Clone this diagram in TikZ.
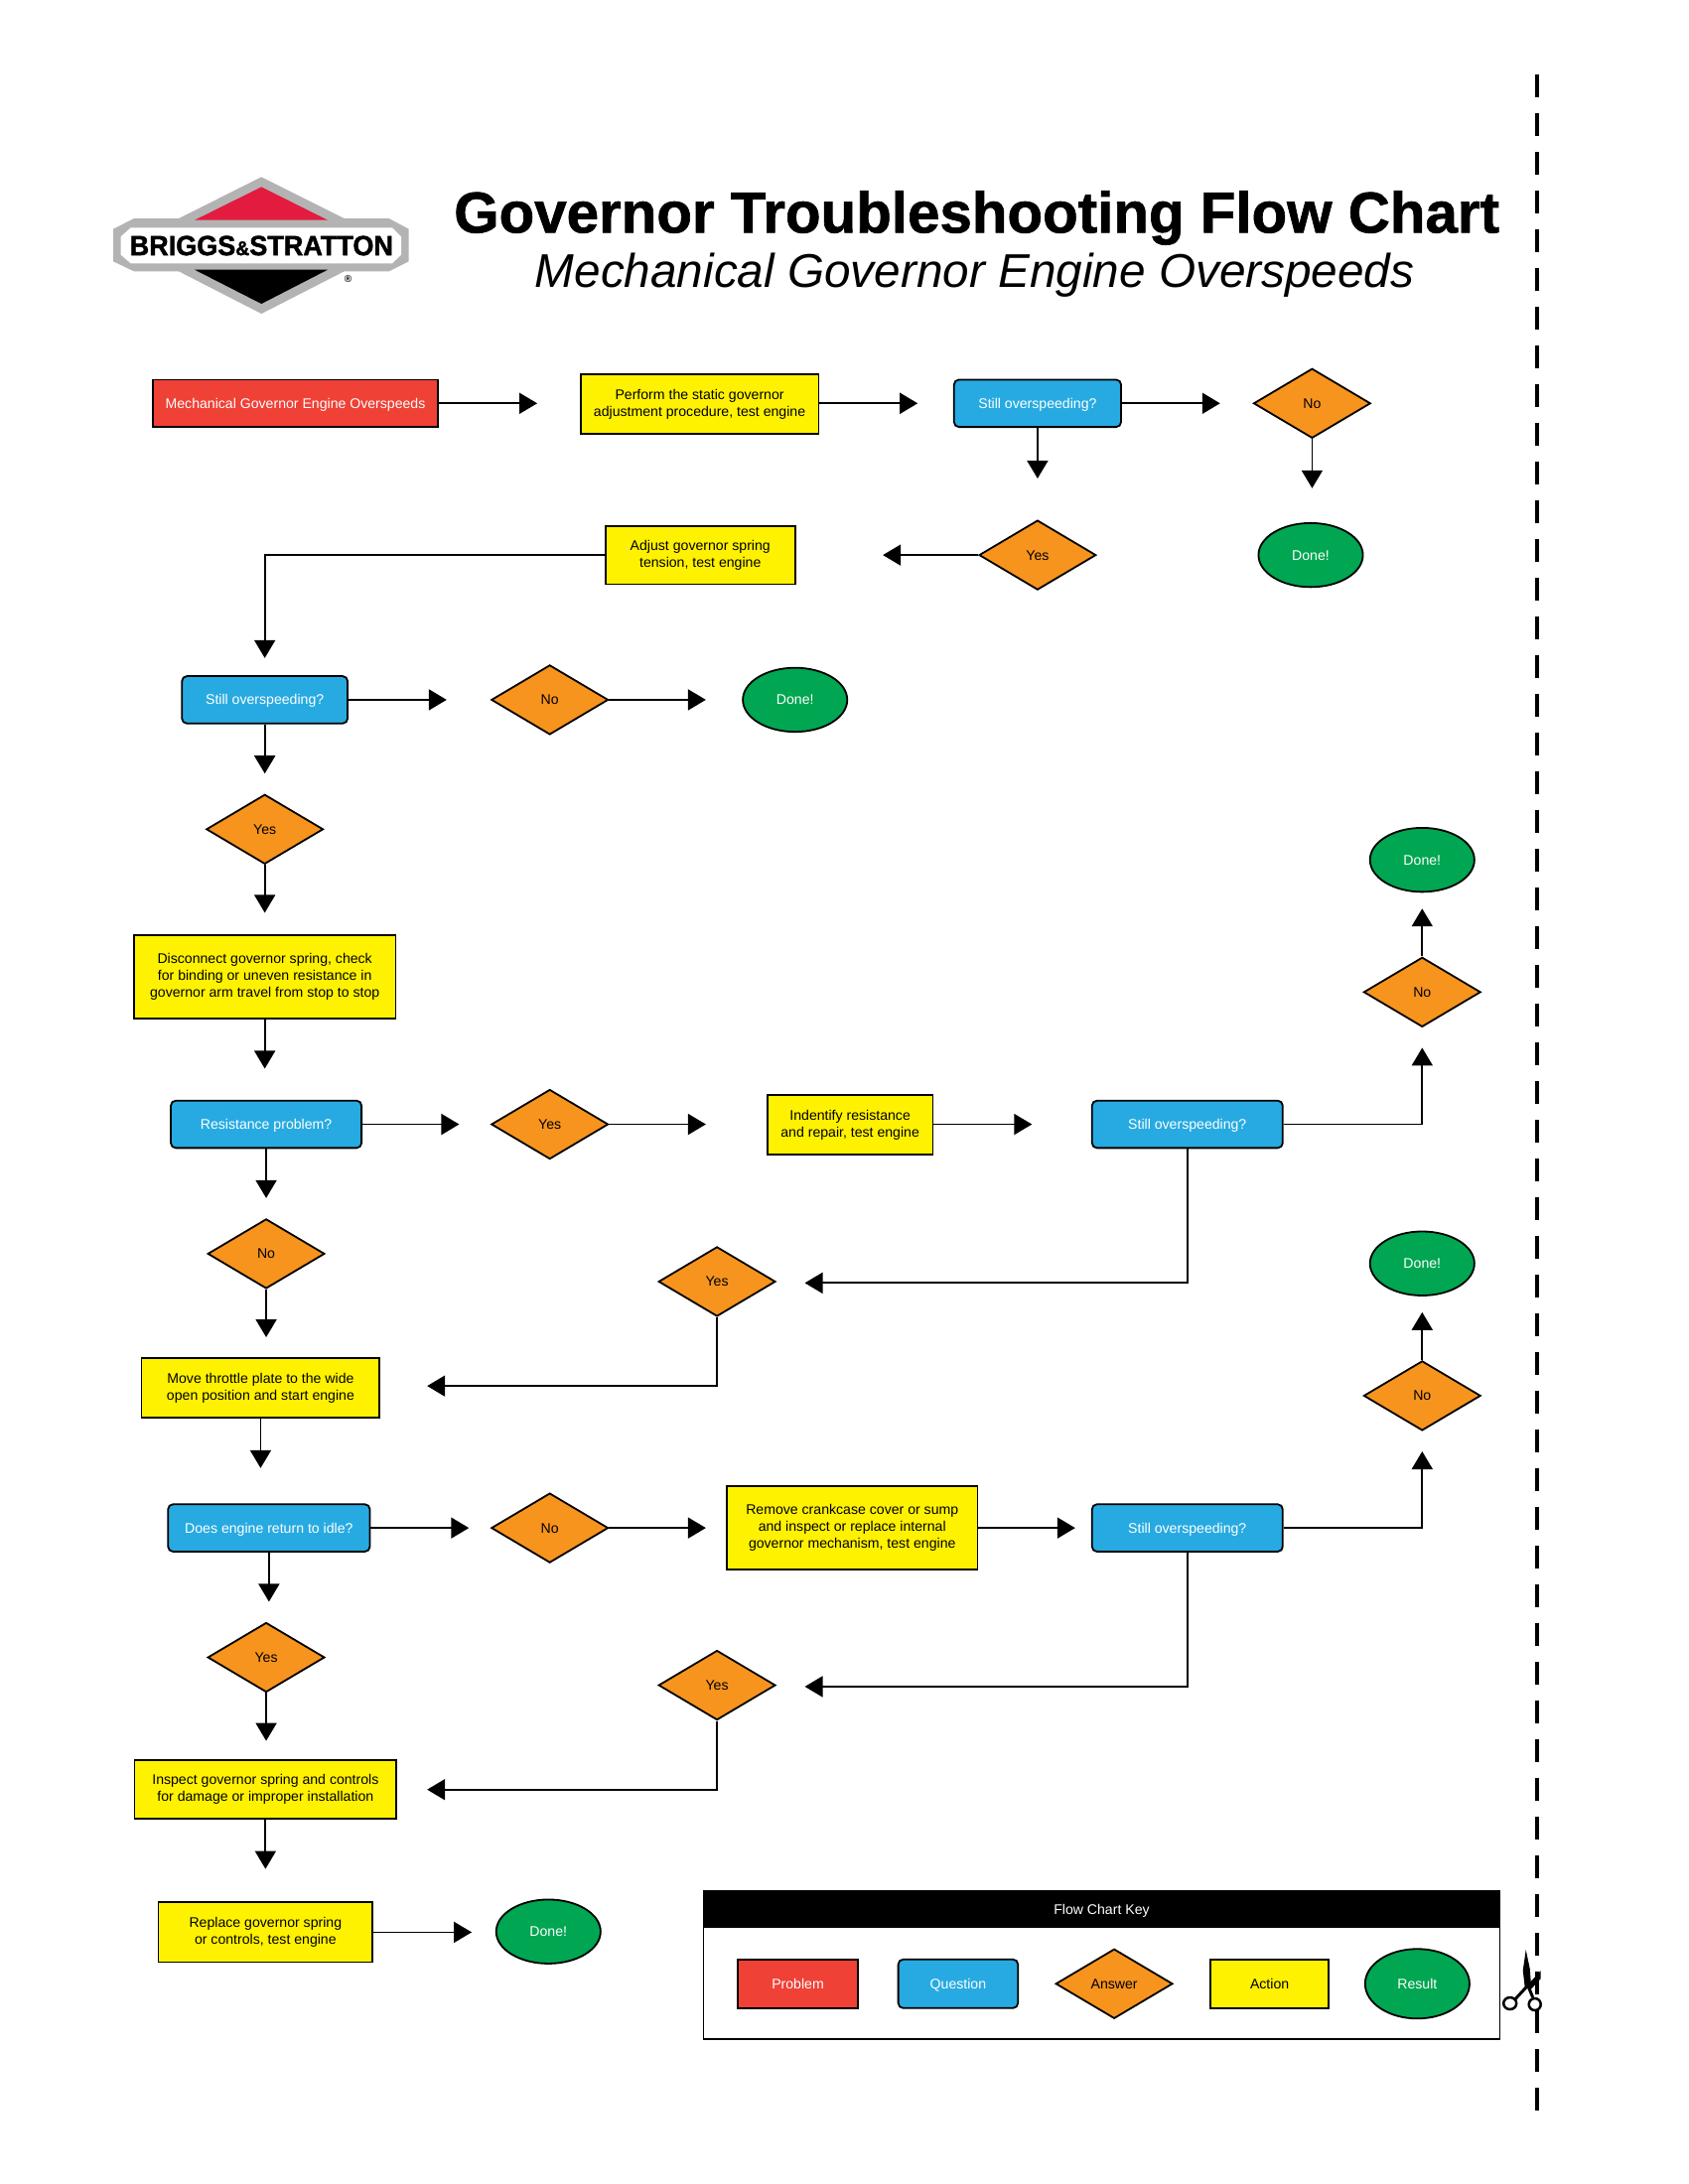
\documentclass[tikz,border=0pt]{standalone}
\usepackage{fontspec}
\setmainfont{Liberation Sans}
\newfontfamily\heavyfont[BoldFeatures={FakeBold=1.1}]{Liberation Sans}
\newfontfamily\logofont[BoldFeatures={FakeBold=1.6}]{Liberation Sans}
\usetikzlibrary{arrows.meta,shapes.geometric}
\definecolor{cred}{HTML}{EF4136}
\definecolor{cblue}{HTML}{27AAE1}
\definecolor{corange}{HTML}{F7941E}
\definecolor{cyellow}{HTML}{FFF200}
\definecolor{cgreen}{HTML}{00A651}
\definecolor{cgrey}{HTML}{B3B3B3}
\definecolor{clogored}{HTML}{E31B3F}
\def\uu{1.402pt}
\tikzset{
  base/.style={draw=black,line width=1.8pt,inner sep=0pt,align=center,
    font=\fontsize{14.1}{17}\selectfont},
  oneline/.style={text height=10pt,text depth=0pt},
  probbox/.style={base,oneline,rectangle,fill=cred,text=white,minimum width=#1*\uu,minimum height=34*\uu},
  quesbox/.style={base,oneline,rectangle,rounded corners=5pt,fill=cblue,text=white,minimum width=#1*\uu,minimum height=34*\uu},
  actbox/.style={base,rectangle,fill=cyellow,text=black,minimum width=#1*\uu},
  ansbox/.style={base,oneline,diamond,aspect=1.7,fill=corange,text=black,minimum width=84*\uu,minimum height=50*\uu},
  resbox/.style={base,oneline,ellipse,fill=cgreen,text=white,minimum width=75*\uu,minimum height=46*\uu},
  conn/.style={line width=1.8pt,draw=black},
  arr/.style={conn,-{Triangle[length=18pt,width=21pt]}},
}
\begin{document}
\begin{tikzpicture}[x=1.4035pt,y=-\uu]
\useasboundingbox (-0.5,-0.8) rectangle ++(1211.26,1569.19);
% logo, in image pixels
\begin{scope}[x=1pt,y=-1pt,shift={(-0.7,-1.1)}]
\fill[cgrey] (263.3,178.3) -- (180,220) -- (180,273.3) -- (263.3,316) -- (346.7,273.3) -- (346.7,220) -- cycle;
\fill[cgrey] (135,220) -- (391.7,220) -- (411.7,230.7) -- (411.7,263.3) -- (391.7,273.3) -- (135,273.3) -- (114,263.3) -- (114,230.7) -- cycle;
\fill[white] (131.7,229.3) -- (395,229.3) -- (404,238.3) -- (404,256.7) -- (395,265.3) -- (131.7,265.3) -- (121.7,256.7) -- (121.7,238.3) -- cycle;
\fill[clogored] (263.3,188.3) -- (330,221.7) -- (196,221.7) -- cycle;
\fill[black] (196,271.7) -- (330,271.7) -- (263.3,306) -- cycle;
\node[inner sep=0pt,text depth=0pt] (logotext) at (263.3,247.3) {\scalebox{.965}[1]{\fontsize{28}{28}\logofont\bfseries BRIGGS\scalebox{.72}{\&}STRATTON}};
\node[inner sep=0pt] (logoreg) at (350.5,281.5) {\fontsize{10}{10}\selectfont\bfseries ®};
\end{scope}
% titles
\node[inner sep=0pt] (title) at (700.3,155.7) {\fontsize{58.3}{60}\heavyfont\bfseries Governor Troubleshooting Flow Chart};
\node[inner sep=0pt] (subtitle) at (698.9,197.2) {\fontsize{47.7}{48}\selectfont\itshape Mechanical Governor Engine Overspeeds};
% free ends of connectors
\coordinate (t1) at (385,289);
\coordinate (t2) at (658,289);
\coordinate (t3) at (875,289);
\coordinate (t4) at (941,350);
\coordinate (t5) at (744,343);
\coordinate (t6) at (633,398);
\coordinate (t7) at (189.5,472);
\coordinate (t8) at (320,502);
\coordinate (t9) at (506,502);
\coordinate (t10) at (189.5,555);
\coordinate (t11) at (189.5,655);
\coordinate (t12) at (189.5,767);
\coordinate (t13) at (329,807);
\coordinate (t14) at (506,807);
\coordinate (t15) at (740,807);
\coordinate (t16) at (1020,752);
\coordinate (t17) at (1020,652);
\coordinate (t18) at (577,921);
\coordinate (t19) at (306,995);
\coordinate (t20) at (190.5,860);
\coordinate (t21) at (190.5,960);
\coordinate (t22) at (186.5,1054);
\coordinate (t23) at (336,1097);
\coordinate (t24) at (506,1097);
\coordinate (t25) at (771,1097);
\coordinate (t26) at (1020,1042);
\coordinate (t27) at (1020,942);
\coordinate (t28) at (577,1211);
\coordinate (t29) at (306,1285);
\coordinate (t30) at (192.5,1150);
\coordinate (t31) at (190.5,1250);
\coordinate (t32) at (190,1342);
\coordinate (t33) at (338,1387.5);
% nodes
\node[probbox=205] (p1) at (211.5,289) {Mechanical Governor Engine Overspeeds};
\node[actbox=171,minimum height=43*\uu] (a1) at (501.5,289.5) {Perform the static governor\\adjustment procedure, test engine};
\node[quesbox=120] (q1) at (744,289) {Still overspeeding?};
\node[ansbox] (d1) at (941,289) {No};
\node[resbox] (e1) at (940,398) {Done!};
\node[ansbox] (d2) at (744,398) {Yes};
\node[actbox=136,minimum height=42*\uu] (a2) at (502,398) {Adjust governor spring\\tension, test engine};
\node[quesbox=119] (q2) at (189.5,502) {Still overspeeding?};
\node[ansbox] (d3) at (394,502) {No};
\node[resbox] (e2) at (570,502) {Done!};
\node[ansbox] (d4) at (189.5,595) {Yes};
\node[actbox=188,minimum height=60*\uu] (a3) at (189.5,701) {Disconnect governor spring, check\\for binding or uneven resistance in\\governor arm travel from stop to stop};
\node[quesbox=137] (q3) at (190.5,807) {Resistance problem?};
\node[ansbox] (d5) at (394,807) {Yes};
\node[actbox=119,minimum height=43*\uu] (a4) at (609.5,807.5) {Indentify resistance\\and repair, test engine};
\node[quesbox=137] (q4) at (851.5,807) {Still overspeeding?};
\node[ansbox] (d6) at (1020,712) {No};
\node[resbox] (e3) at (1020,617) {Done!};
\node[ansbox] (d7) at (514,920) {Yes};
\node[ansbox] (d8) at (190.5,900) {No};
\node[actbox=171,minimum height=43*\uu] (a5) at (186.5,996.5) {Move throttle plate to the wide\\open position and start engine};
\node[quesbox=145] (q5) at (192.5,1097) {Does engine return to idle?};
\node[ansbox] (d9) at (394,1097) {No};
\node[actbox=180,minimum height=60*\uu] (a6) at (611,1097) {Remove crankcase cover or sump\\and inspect or replace internal\\governor mechanism, test engine};
\node[quesbox=137] (q6) at (851.5,1097) {Still overspeeding?};
\node[ansbox] (d10) at (1020,1002) {No};
\node[resbox] (e4) at (1020,907) {Done!};
\node[ansbox] (d11) at (514,1210) {Yes};
\node[ansbox] (d12) at (190.5,1190) {Yes};
\node[actbox=188,minimum height=42*\uu] (a7) at (190,1285) {Inspect governor spring and controls\\for damage or improper installation};
\node[actbox=154,minimum height=43*\uu] (a8) at (190,1387.5) {Replace governor spring\\or controls, test engine};
\node[resbox] (e5) at (393,1387) {Done!};
% connectors
\draw[arr] (p1.east) -- (t1);
\draw[arr] (a1.east|-t2) -- (t2);
\draw[arr] (q1.east) -- (t3);
\draw[arr] (d1.south) -- (t4);
\draw[arr] (q1.south) -- (t5);
\draw[arr] (d2.west) -- (t6);
\draw[arr] (a2.west) -| (t7);
\draw[arr] (q2.east) -- (t8);
\draw[arr] (d3.east) -- (t9);
\draw[arr] (q2.south) -- (t10);
\draw[arr] (d4.south) -- (t11);
\draw[arr] (a3.south) -- (t12);
\draw[arr] (q3.east) -- (t13);
\draw[arr] (d5.east) -- (t14);
\draw[arr] (a4.east|-t15) -- (t15);
\draw[arr] (q4.east) -| (t16);
\draw[arr] (d6.north) -- (t17);
\draw[arr] (q4.south) |- (t18);
\draw[arr] (d7.south) |- (t19);
\draw[arr] (q3.south) -- (t20);
\draw[arr] (d8.south) -- (t21);
\draw[arr] (a5.south) -- (t22);
\draw[arr] (q5.east) -- (t23);
\draw[arr] (d9.east) -- (t24);
\draw[arr] (a6.east) -- (t25);
\draw[arr] (q6.east) -| (t26);
\draw[arr] (d10.north) -- (t27);
\draw[arr] (q6.south) |- (t28);
\draw[arr] (d11.south) |- (t29);
\draw[arr] (q5.south) -- (t30);
\draw[arr] (d12.south) -- (t31);
\draw[arr] (a7.south) -- (t32);
\draw[arr] (a8.east) -- (t33);
% key
\node[draw=black,line width=1.8pt,rectangle,minimum width=572*\uu,minimum height=106*\uu,inner sep=0pt] (keyframe) at (790,1411) {};
\node[fill=black,rectangle,minimum width=572*\uu,minimum height=26*\uu,inner sep=0pt,oneline,text=white,font=\fontsize{14.1}{17}\selectfont] (keyhead) at (790,1371) {Flow Chart Key};
\node[probbox=86,minimum height=35*\uu] (k1) at (572,1424.5) {Problem};
\node[quesbox=86,minimum height=35*\uu] (k2) at (687,1424.5) {Question};
\node[ansbox] (k3) at (799,1424.5) {Answer};
\node[actbox=85,minimum height=35*\uu,oneline] (k4) at (910.5,1424.5) {Action};
\node[resbox,minimum width=75*\uu,minimum height=50*\uu] (k5) at (1016.5,1424.5) {Result};
% cut line and scissors, in image pixels
\begin{scope}[x=1pt,y=-1pt,shift={(0.5,-1.1)}]
\draw[line width=4pt,dash pattern=on 23.4pt off 15.6pt] (1547,75) -- (1547,2126);
\end{scope}
\begin{scope}[x=1pt,y=-1pt,shift={(2,-1.1)}]
\fill[black] (1534,1964) -- (1538,1983) -- (1539,1996) -- (1549,1985) -- (1549,1993) -- (1539,2004) -- (1533,2002) -- (1531,1985) -- cycle;
\draw[line width=3pt] (1536,2000) -- (1523,2014);
\draw[line width=3pt] (1536,2000) -- (1541,2012);
\draw[line width=2.5pt] (1518,2018) ellipse (6.5 and 6);
\draw[line width=2.5pt] (1543,2019) ellipse (6 and 6);
\end{scope}
\end{tikzpicture}
\end{document}
